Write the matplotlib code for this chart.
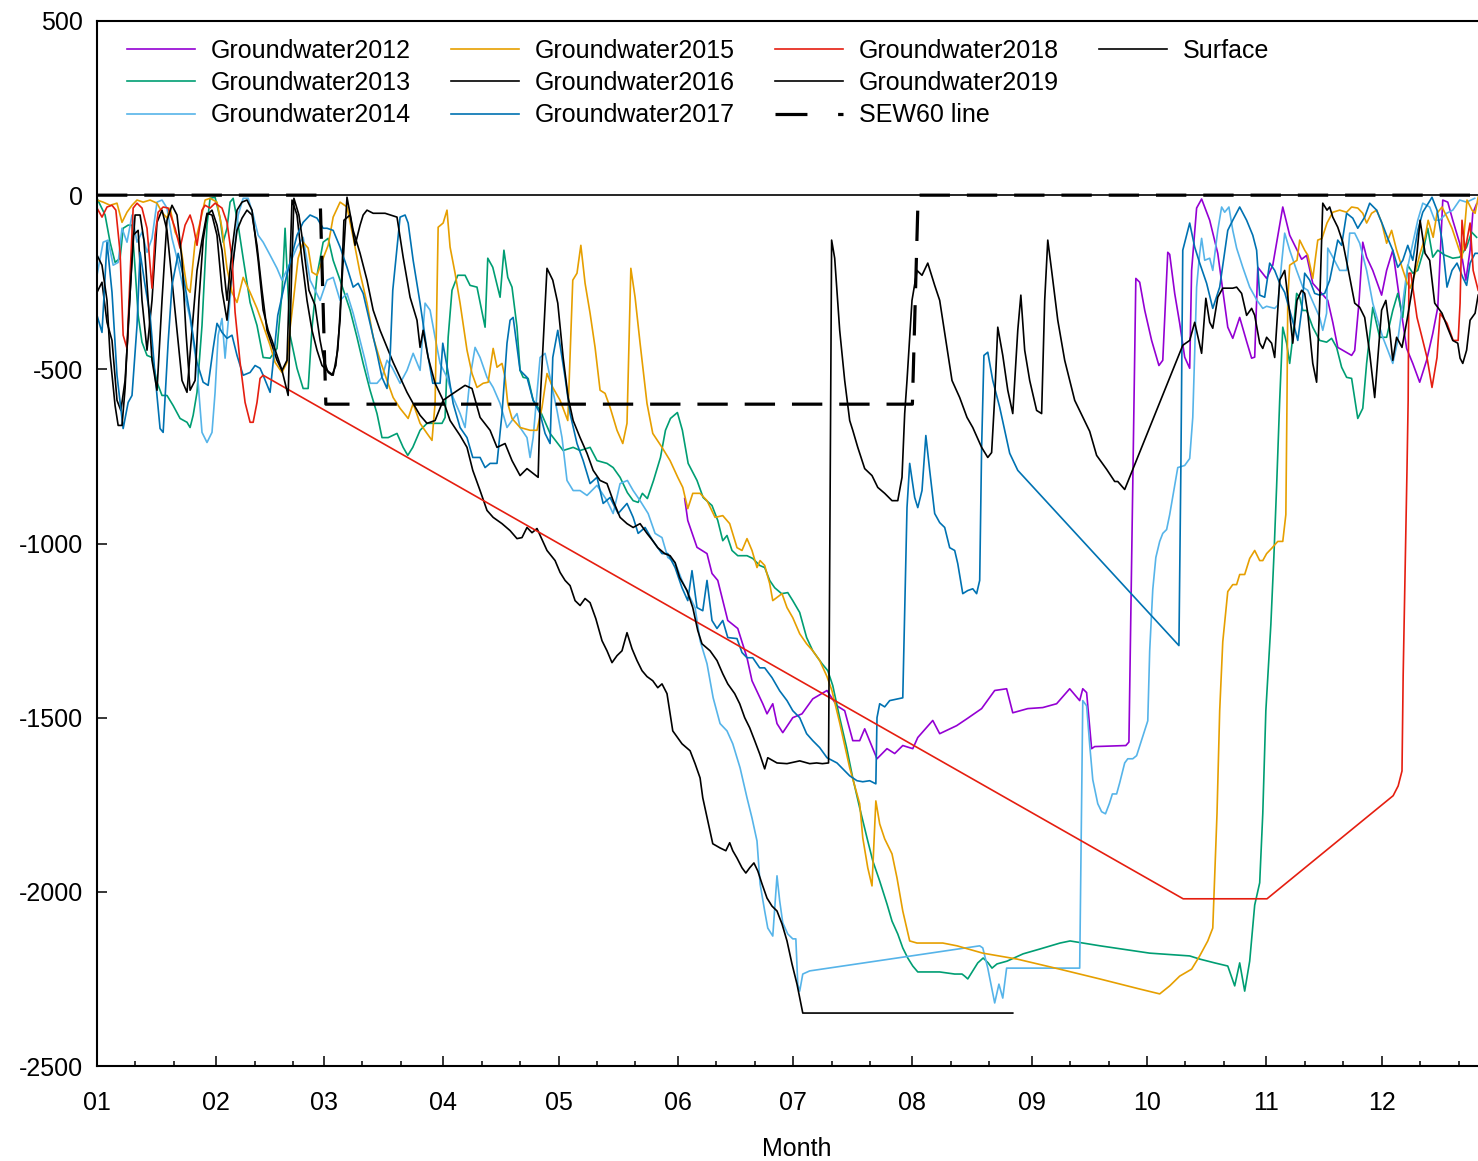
import matplotlib
matplotlib.use("Agg")
import matplotlib.pyplot as plt
from matplotlib.lines import Line2D

plt.rcParams['font.family'] = ['Liberation Sans', 'DejaVu Sans']
plt.rcParams['axes.unicode_minus'] = False

# day of year (0 = 1 Jan), value
gw2012 = [(152.8,-871),(153.6,-934),(156.0,-1011),(158.6,-1029),(159.9,-1086),(161.4,-1106),(164.0,-1221),(166.6,-1244),
          (169.0,-1328),(170.3,-1394),(173.1,-1460),(174.2,-1489),(175.7,-1460),(176.8,-1517),(178.3,-1543),(180.9,-1500),
          (183.3,-1489),(186.1,-1446),(189.8,-1422),(192.4,-1466),(194.4,-1480),(196.5,-1566),(198.3,-1566),(199.6,-1532),
          (202.8,-1618),(205.4,-1589),(207.4,-1603),(209.5,-1580),(212.1,-1589),(213.4,-1557),(217.3,-1508),(219.1,-1546),
          (223.5,-1523),(226.2,-1503),(230.0,-1474),(233.4,-1422),(236.5,-1417),(238.1,-1486),(242.0,-1474),(245.9,-1471),
          (249.5,-1460),(252.9,-1417),(255.5,-1451),(256.3,-1417),(257.3,-1428),(258.6,-1589),(259.4,-1583),(267.5,-1580),
          (268.3,-1570),(270.1,-239),(271.1,-250),(272.4,-330),(274.2,-417),(276.1,-489),(277.1,-474),(278.4,-164),
          (278.9,-170),(280.2,-282),(281.5,-368),(282.8,-465),(284.1,-497),(284.6,-216),(285.9,-37),(287.2,-11),
          (289.3,-72),(291.4,-167),(294.0,-379),(295.3,-411),(297.1,-351),(298.9,-420),(300.2,-468),(301.0,-465),
          (301.8,-207),(304.1,-239),(305.7,-201),(308.3,-34),(310.1,-115),(313.2,-184),(314.5,-173),(316.1,-253),
          (320.0,-302),(321.3,-365),(322.6,-437),(326.2,-460),(327.0,-446),(328.1,-310),(329.1,-135),(330.1,-178),
          (331.7,-216),(334.0,-287),(335.3,-216),(336.9,-158),(338.7,-302),(340.5,-440),(342.1,-483),(343.9,-537),
          (345.7,-474),(347.3,-397),(348.6,-322),(349.9,-14),(351.2,-20),(352.5,-72),(354.3,-138),(355.9,-244),
          (357.0,-158),(357.7,-52),(358.7,-25)]

gw2013 = [(0,-9),(2.1,-57),(3.4,-135),(4.7,-193),(6.0,-181),(6.8,-95),(8.1,-86),(9.1,-86),(9.9,-210),(10.7,-345),
          (11.7,-422),(13.0,-460),(14.3,-466),(15.6,-537),(16.9,-575),(18.2,-575),(19.8,-604),(21.6,-641),(23.4,-652),
          (24.2,-667),(25.0,-632),(26.0,-566),(27.3,-374),(28.6,-86),(29.4,-9),(30.7,-6),(32.0,-66),(32.8,-135),
          (33.8,-95),(34.6,-20),(35.4,-9),(36.7,-86),(38.0,-181),(39.8,-308),(41.6,-374),(43.2,-466),(45.0,-468),
          (46.8,-440),(48.1,-279),(48.9,-95),(50.2,-402),(52.0,-497),(53.6,-555),(54.9,-555),(55.9,-382),(57.2,-230),
          (58.8,-135),(60.1,-124),(61.4,-187),(63.2,-244),(65.8,-330),(67.6,-408),(69.2,-483),(71.0,-560),(72.8,-627),
          (74.1,-696),(75.7,-696),(78.0,-684),(79.6,-724),(80.8,-747),(82.1,-724),(84.0,-675),(85.8,-655),(87.9,-655),
          (89.7,-655),(90.5,-638),(91.3,-408),(92.3,-273),(93.8,-230),(95.7,-230),(97.0,-259),(98.8,-264),(100.9,-379),
          (101.6,-181),(102.9,-207),(104.8,-293),(105.8,-158),(106.8,-236),(107.9,-264),(109.2,-379),(110.0,-503),
          (110.8,-523),(112.1,-526),(113.4,-589),(115.2,-618),(117.8,-684),(121.2,-733),(123.8,-724),(125.6,-733),
          (128.2,-724),(130.0,-762),(132.6,-770),(134.2,-782),(136.0,-810),(137.9,-854),(139.4,-877),(140.7,-882),
          (141.8,-856),(143.1,-871),(144.7,-819),(146.5,-753),(147.8,-675),(149.1,-641),(150.9,-624),(152.2,-675),
          (153.7,-770),(156.0,-819),(157.6,-868),(159.9,-891),(161.4,-934),(162.7,-992),(163.8,-977),(165.1,-1020),
          (166.6,-1035),(169.0,-1035),(170.5,-1043),(172.3,-1063),(173.6,-1069),(174.9,-1106),(176.2,-1127),
          (178.0,-1144),(179.6,-1141),(180.9,-1164),(182.7,-1198),(184.5,-1270),(186.1,-1308),(188.5,-1345),
          (190.0,-1365),(191.3,-1408),(193.1,-1500),(194.9,-1586),(196.5,-1673),(198.3,-1759),(200.2,-1845),
          (201.7,-1911),(203.5,-1969),(205.4,-2035),(206.7,-2084),(208.2,-2121),(209.5,-2161),(210.8,-2190),
          (212.1,-2213),(213.4,-2230),(219.1,-2230),(223.0,-2236),(224.9,-2236),(225.6,-2242),(226.4,-2250),
          (227.7,-2227),(229.0,-2204),(230.4,-2190),(231.7,-2204),(232.7,-2219),(234.0,-2207),(236.6,-2199),
          (240.8,-2178),(245.2,-2164),(250.4,-2147),(253.0,-2141),(260.8,-2155),(273.7,-2176),(284.1,-2184),
          (286.7,-2193),(290.6,-2204),(294.0,-2213),(295.8,-2270),(297.1,-2204),(298.4,-2285),(299.7,-2199),
          (301.0,-2038),(302.3,-1974),(303.1,-1776),(303.9,-1480),(304.7,-1331),(305.2,-1233),(306.0,-1035),
          (306.7,-836),(307.5,-589),(308.3,-379),(309.3,-425),(310.1,-483),(310.9,-408),(311.9,-282),(312.7,-293),
          (313.5,-331),(314.5,-331),(316.1,-379),(317.9,-417),(319.7,-422),(321.0,-411),(322.3,-437),(323.6,-494),
          (324.9,-523),(326.2,-526),(327.8,-641),(329.1,-612),(330.1,-483),(331.7,-322),(333.5,-408),(335.3,-408),
          (336.9,-331),(338.2,-282),(339.5,-351),(340.8,-201),(342.1,-224),(343.4,-216),(344.7,-167),(346.0,-95),
          (347.3,-178),(348.6,-158),(350.4,-172),(352.5,-181),(354.3,-178),(356.1,-149),(357.4,-106),(358.7,-121)]

gw2014 = [(0,-230),(1.6,-135),(2.9,-129),(4.2,-201),(5.5,-193),(6.5,-95),(7.8,-135),(9.1,-57),(10.4,-135),(11.7,-106),
          (13.0,-164),(14.3,-124),(15.6,-20),(16.9,-14),(18.2,-37),(19.5,-124),(20.8,-181),(22.4,-267),(24.2,-354),
          (26.0,-497),(27.3,-681),(28.6,-710),(29.9,-681),(30.7,-566),(31.5,-402),(32.5,-354),(33.3,-468),(34.1,-365),
          (35.4,-193),(36.7,-57),(38.0,-9),(39.3,-9),(40.6,-57),(41.9,-115),(43.2,-135),(45.0,-172),(46.8,-210),
          (48.1,-244),(50.2,-195),(52.0,-149),(53.6,-121),(55.4,-244),(58.0,-302),(59.8,-244),(61.4,-236),(63.2,-302),
          (65.0,-282),(66.6,-339),(68.4,-417),(69.7,-474),(71.0,-540),(72.8,-540),(74.1,-523),(75.4,-474),(76.7,-494),
          (78.8,-540),(80.6,-503),(82.2,-454),(84.0,-503),(85.3,-310),(86.6,-330),(87.9,-408),(89.2,-483),(91.0,-523),
          (92.6,-581),(94.4,-627),(95.7,-667),(97.0,-523),(98.3,-437),(99.6,-466),(101.4,-523),(103.0,-552),
          (104.8,-598),(106.6,-667),(107.9,-647),(109.2,-627),(110.0,-667),(111.8,-696),(112.6,-753),(113.4,-696),
          (115.2,-466),(116.5,-454),(117.8,-523),(119.6,-618),(120.9,-696),(122.2,-819),(123.8,-848),(125.6,-848),
          (127.4,-862),(130.0,-833),(132.6,-877),(134.2,-914),(136.0,-828),(137.9,-819),(139.4,-848),(141.2,-877),
          (143.3,-914),(145.1,-971),(146.9,-983),(148.4,-1040),(150.3,-1055),(152.1,-1106),(153.7,-1144),
          (155.5,-1184),(156.8,-1279),(158.6,-1345),(160.2,-1443),(162.0,-1517),(163.8,-1538),(165.3,-1575),
          (167.2,-1644),(169.0,-1730),(170.3,-1788),(171.6,-1854),(172.4,-1977),(173.6,-2055),(174.4,-2104),
          (175.7,-2127),(176.8,-1954),(177.5,-2026),(178.3,-2089),(179.6,-2121),(180.9,-2135),(181.7,-2135),
          (182.2,-2265),(182.7,-2285),(183.5,-2236),(185.3,-2227),(229.5,-2155),(230.3,-2161),(231.6,-2219),
          (233.4,-2319),(234.5,-2265),(235.5,-2305),(236.5,-2219),(255.5,-2219),(256.3,-1451),(257.3,-1466),
          (258.1,-1578),(258.9,-1678),(260.2,-1747),(261.2,-1770),(262.2,-1776),(263.2,-1747),(264.0,-1719),
          (265.1,-1719),(265.9,-1687),(267.2,-1630),(268.0,-1618),(269.3,-1618),(270.3,-1609),(273.2,-1509),
          (273.7,-1308),(274.5,-1132),(275.3,-1040),(276.3,-994),(277.1,-971),(278.1,-960),(278.9,-917),(279.7,-865),
          (281.0,-782),(282.8,-776),(284.1,-756),(284.9,-638),(285.9,-264),(286.7,-167),(287.2,-124),(288.0,-187),
          (289.3,-181),(290.1,-216),(291.4,-101),(292.4,-34),(293.2,-49),(294.3,-34),(295.3,-101),(296.3,-152),
          (297.9,-207),(299.7,-264),(301.6,-302),(303.1,-325),(304.1,-319),(306.2,-325),(307.0,-316),(308.0,-195),
          (308.8,-109),(310.1,-158),(311.9,-216),(313.5,-264),(314.8,-273),(317.9,-351),(318.7,-388),(319.7,-339),
          (320.0,-152),(321.3,-178),(323.1,-216),(324.9,-216),(325.7,-109),(327.0,-109),(328.3,-138),(330.1,-216),
          (331.7,-310),(333.5,-379),(334.3,-408),(335.6,-445),(336.9,-483),(338.2,-417),(339.5,-310),(340.6,-216),
          (342.1,-138),(343.4,-72),(344.7,-23),(346.5,-34),(347.8,-72),(349.1,-72),(350.9,-52),(352.5,-43),
          (354.3,-14),(356.1,-20),(358.2,-9)]

gw2015 = [(0,-14),(1.6,-20),(3.4,-29),(5.2,-23),(6.5,-78),(7.8,-49),(9.1,-29),(10.4,-14),(12.0,-20),(13.8,-14),
          (15.6,-23),(16.9,-49),(18.2,-66),(19.0,-37),(20.3,-106),(21.6,-135),(23.4,-267),(24.2,-279),(25.5,-135),
          (26.8,-78),(28.1,-14),(29.4,-9),(31.2,-20),(32.5,-95),(33.8,-210),(35.1,-279),(36.4,-308),(38.0,-236),
          (39.8,-279),(41.6,-325),(43.2,-374),(45.0,-431),(46.3,-480),(48.1,-509),(49.4,-480),(50.2,-382),(51.0,-308),
          (52.3,-181),(53.6,-135),(54.9,-152),(55.9,-221),(57.2,-230),(58.8,-181),(60.1,-144),(61.4,-63),(63.2,-20),
          (65.0,-34),(66.6,-121),(68.4,-224),(70.2,-310),(71.8,-408),(73.6,-474),(75.4,-532),(77.0,-581),(78.8,-612),
          (80.9,-641),(82.2,-598),(84.0,-655),(85.8,-684),(87.1,-704),(87.9,-598),(88.7,-92),(90.0,-80),(91.0,-43),
          (91.8,-149),(93.1,-224),(94.4,-310),(96.2,-445),(97.5,-512),(98.8,-552),(100.4,-540),(101.7,-537),
          (103.0,-440),(104.0,-494),(105.3,-483),(106.1,-523),(106.8,-598),(107.9,-641),(110.0,-667),(112.6,-675),
          (114.4,-675),(115.7,-609),(117.0,-512),(118.5,-552),(120.4,-589),(122.4,-647),(123.7,-244),(124.8,-224),
          (125.8,-144),(126.9,-253),(128.2,-339),(129.5,-437),(130.8,-560),(132.1,-569),(133.4,-609),(135.2,-675),
          (136.7,-713),(137.8,-655),(138.8,-210),(139.9,-293),(141.2,-425),(143.0,-598),(144.5,-684),(146.9,-724),
          (149.0,-762),(151.0,-810),(152.3,-839),(153.6,-900),(154.9,-856),(156.8,-856),(158.6,-877),(160.7,-925),
          (162.7,-920),(164.5,-943),(166.4,-1012),(167.7,-1020),(169.0,-986),(170.3,-1020),(171.6,-1069),
          (172.4,-1049),(173.6,-1063),(174.9,-1115),(175.7,-1164),(178.1,-1144),(179.4,-1184),(180.9,-1213),
          (182.7,-1259),(184.5,-1288),(186.1,-1308),(187.9,-1336),(189.8,-1382),(191.1,-1423),(193.1,-1515),
          (195.7,-1644),(198.3,-1747),(199.1,-1845),(200.4,-1931),(201.5,-1983),(202.5,-1739),(203.5,-1805),
          (204.8,-1848),(206.7,-1891),(208.0,-1960),(209.5,-2055),(211.3,-2141),(213.2,-2147),(219.9,-2147),
          (223.6,-2155),(230.3,-2176),(239.2,-2193),(250.3,-2222),(260.7,-2250),(271.1,-2279),(276.3,-2293),
          (278.9,-2270),(281.5,-2242),(284.6,-2222),(286.7,-2184),(288.8,-2141),(290.1,-2104),(291.2,-1776),
          (291.9,-1480),(292.7,-1282),(294.0,-1138),(295.3,-1118),(296.3,-1118),(297.1,-1089),(298.4,-1089),
          (299.7,-1043),(301.0,-1020),(302.3,-1049),(303.1,-1049),(304.1,-1029),(305.4,-1014),(307.0,-994),
          (308.3,-994),(309.1,-917),(309.4,-589),(309.6,-302),(310.1,-201),(310.9,-195),(312.0,-187),(312.7,-129),
          (314.0,-158),(314.8,-172),(316.1,-239),(317.4,-129),(318.5,-124),(319.8,-80),(321.3,-49),(323.1,-43),
          (324.9,-49),(326.2,-34),(327.8,-37),(329.1,-52),(330.1,-80),(331.4,-52),(332.7,-43),(334.0,-78),
          (335.3,-138),(336.6,-101),(337.9,-158),(339.3,-207),(340.6,-250),(341.4,-267),(342.7,-224),(344.0,-167),
          (345.3,-121),(346.1,-72),(347.4,-121),(348.4,-52),(349.7,-34),(351.0,-63),(352.3,-95),(353.6,-138),
          (354.9,-181),(356.2,-14),(357.5,-43),(358.3,-52),(359.1,-6)]

gw2016 = [(0,-279),(1.3,-250),(2.6,-365),(3.9,-417),(5.2,-589),(6.2,-618),(7.3,-532),(8.1,-388),(9.4,-115),
          (10.7,-101),(11.7,-302),(13.0,-445),(14.3,-302),(15.6,-78),(16.9,-43),(18.2,-101),(19.5,-244),(20.8,-388),
          (22.1,-532),(23.4,-566),(24.7,-388),(26.0,-216),(27.3,-129),(28.6,-52),(29.9,-57),(31.2,-115),(32.5,-273),
          (33.8,-359),(35.1,-216),(36.4,-101),(37.7,-66),(39.0,-43),(40.3,-57),(41.6,-144),(42.9,-273),(44.2,-388),
          (45.5,-431),(46.8,-474),(48.1,-503),(49.4,-474),(50.7,-14),(52.0,-57),(53.3,-187),(54.6,-302),(55.9,-388),
          (57.2,-445),(58.5,-489),(59.8,-503),(61.4,-517),(62.6,-445),(63.7,-244),(65.0,-6),(66.6,-101),(68.4,-167),
          (70.2,-244),(71.8,-330),(73.6,-388),(75.4,-437),(77.0,-480),(78.8,-523),(80.6,-566),(82.2,-598),(84.0,-632),
          (85.8,-655),(87.9,-647),(90.0,-589),(91.8,-647),(94.4,-690),(96.2,-724),(97.7,-790),(99.6,-848),
          (101.4,-905),(103.0,-925),(105.3,-943),(107.4,-963),(109.2,-986),(110.5,-983),(111.8,-954),(113.1,-969),
          (114.4,-957),(117.0,-1020),(119.1,-1049),(120.4,-1083),(121.7,-1106),(123.0,-1121),(124.3,-1164),
          (125.6,-1178),(126.9,-1158),(128.2,-1170),(129.7,-1216),(131.3,-1279),(132.6,-1308),(133.9,-1342),
          (135.2,-1322),(136.5,-1308),(137.8,-1256),(139.1,-1302),(140.4,-1336),(141.7,-1365),(143.0,-1382),
          (144.5,-1394),(145.8,-1414),(146.9,-1403),(148.2,-1431),(149.7,-1538),(152.1,-1575),(154.2,-1595),
          (155.5,-1632),(156.8,-1673),(157.5,-1730),(158.8,-1796),(160.1,-1862),(162.0,-1874),(163.5,-1882),
          (164.5,-1859),(165.3,-1882),(166.4,-1903),(167.7,-1931),(168.7,-1946),(169.7,-1931),(170.8,-1917),
          (171.8,-1940),(172.9,-1977),(174.2,-2018),(175.5,-2041),(176.8,-2055),(178.1,-2092),(179.4,-2141),
          (180.7,-2207),(182.0,-2265),(183.5,-2348),(186.1,-2348),(238.1,-2348)]

gw2017 = [(0,-345),(1.3,-394),(2.6,-135),(3.9,-279),(5.2,-517),(6.8,-670),(8.1,-595),(9.1,-575),(10.4,-374),
          (11.2,-164),(12.5,-259),(13.8,-345),(15.1,-517),(16.4,-670),(17.2,-681),(18.5,-422),(19.5,-259),(21.1,-167),
          (22.4,-230),(24.2,-345),(26.0,-480),(27.6,-537),(28.9,-546),(30.2,-440),(31.2,-368),(32.5,-394),(33.8,-411),
          (35.1,-402),(36.4,-460),(38.0,-517),(39.8,-509),(41.1,-489),(42.4,-497),(43.2,-517),(45.0,-566),(45.8,-480),
          (47.0,-345),(48.9,-250),(50.2,-193),(52.0,-115),(53.6,-78),(55.4,-57),(57.2,-66),(58.8,-95),(59.8,-95),
          (61.4,-101),(63.2,-149),(65.0,-207),(66.6,-264),(67.9,-253),(69.2,-282),(71.0,-368),(72.8,-454),(74.1,-523),
          (75.4,-555),(76.2,-466),(76.9,-273),(78.8,-63),(80.1,-57),(80.9,-80),(82.2,-187),(84.0,-310),(85.8,-445),
          (87.3,-540),(89.2,-540),(89.9,-425),(91.2,-503),(92.6,-598),(94.4,-667),(96.2,-696),(97.7,-753),(99.6,-753),
          (100.9,-782),(102.2,-770),(104.0,-770),(105.3,-627),(106.6,-425),(107.4,-359),(108.2,-351),(110.0,-503),
          (111.8,-523),(113.4,-589),(115.2,-627),(116.5,-684),(117.8,-713),(118.5,-466),(119.8,-388),(121.7,-523),
          (123.0,-627),(124.8,-713),(126.4,-762),(128.2,-828),(130.0,-810),(131.6,-885),(133.4,-868),(135.5,-914),
          (137.8,-885),(139.4,-925),(140.7,-971),(142.5,-954),(144.5,-992),(146.9,-1029),(148.4,-1029),(150.3,-1069),
          (152.1,-1127),(153.6,-1164),(154.7,-1078),(156.0,-1184),(157.5,-1193),(158.6,-1106),(159.9,-1221),
          (161.2,-1244),(162.7,-1221),(164.0,-1270),(166.4,-1273),(167.7,-1313),(169.0,-1328),(170.5,-1328),
          (172.3,-1357),(173.6,-1357),(175.5,-1385),(177.5,-1423),(179.4,-1451),(180.9,-1480),(182.7,-1500),
          (184.5,-1546),(186.1,-1566),(187.9,-1586),(189.8,-1615),(192.4,-1630),(193.9,-1647),(195.7,-1667),
          (197.6,-1681),(199.1,-1684),(200.9,-1681),(202.5,-1690),(202.8,-1500),(203.5,-1460),(204.8,-1469),
          (206.1,-1451),(209.5,-1443),(210.6,-897),(211.3,-770),(212.6,-868),(213.4,-897),(214.5,-848),(215.5,-690),
          (216.5,-790),(217.8,-914),(219.1,-940),(220.4,-954),(221.7,-1012),(223.0,-1020),(223.8,-1058),
          (225.1,-1144),(226.4,-1135),(227.7,-1130),(228.7,-1144),(229.5,-1106),(230.0,-724),(230.6,-460),
          (231.6,-451),(232.9,-532),(234.7,-609),(237.3,-741),(239.4,-790),(281.3,-1293),(281.8,-790),(282.3,-158),
          (284.1,-80),(285.4,-149),(286.7,-195),(288.5,-253),(290.1,-325),(291.9,-264),(294.0,-101),(295.3,-72),
          (297.1,-34),(298.9,-72),(300.5,-115),(301.5,-158),(302.3,-287),(303.6,-293),(304.9,-195),(306.2,-216),
          (307.5,-253),(308.8,-279),(310.1,-331),(311.4,-382),(312.2,-417),(313.2,-331),(314.0,-224),(315.3,-244),
          (316.6,-282),(317.9,-287),(319.2,-282),(320.5,-244),(321.3,-201),(322.6,-129),(323.6,-144),(324.9,-52),
          (326.5,-66),(327.8,-95),(329.6,-63),(330.9,-23),(332.7,-43),(334.3,-86),(335.6,-124),(336.9,-158),
          (338.2,-207),(339.5,-187),(340.8,-144),(342.1,-187),(343.4,-101),(344.7,-49),(347.1,-6),(348.4,-43),
          (349.7,-129),(351.0,-264),(352.3,-216),(353.6,-195),(355.1,-236),(356.1,-259),(357.0,-195),(358.3,-167),
          (359.1,-167)]

gw2018 = [(0,-37),(1.3,-63),(2.6,-34),(3.9,-29),(4.9,-43),(6.0,-164),(6.8,-402),(7.8,-440),(8.6,-230),(9.4,-37),
          (10.4,-23),(11.7,-37),(13.0,-95),(14.3,-267),(15.1,-115),(15.9,-49),(17.2,-34),(18.5,-37),(20.3,-95),
          (21.6,-152),(22.9,-86),(24.2,-57),(25.0,-86),(26.0,-144),(27.3,-43),(28.1,-29),(29.4,-37),(30.7,-23),
          (32.5,-37),(33.8,-78),(35.1,-181),(35.9,-336),(37.2,-480),(38.5,-595),(39.8,-652),(40.6,-652),(41.6,-595),
          (42.4,-526),(43.2,-517),(282.4,-2020),(304.2,-2020),(337.0,-1724),(338.3,-1696),(339.3,-1653),
          (339.6,-1380),(340.1,-1083),(340.6,-787),(340.9,-589),(341.1,-224),(341.6,-224),(343.2,-351),(344.5,-408),
          (345.8,-466),(347.1,-552),(348.4,-466),(349.2,-339),(351.0,-368),(352.6,-417),(353.9,-417),(354.4,-310),
          (354.9,-72),(355.7,-158),(357.0,-80),(357.8,-216),(359.1,-273)]

gw2019 = [(0,-172),(1.3,-201),(2.6,-302),(3.4,-460),(4.7,-604),(5.5,-661),(6.5,-661),(7.3,-555),(8.1,-374),
          (9.1,-187),(9.9,-57),(11.2,-57),(12.2,-129),(13.3,-302),(14.3,-474),(15.6,-560),(16.9,-302),(18.2,-72),
          (19.5,-29),(20.8,-57),(22.1,-187),(23.1,-388),(24.2,-560),(25.5,-532),(26.5,-302),(27.6,-129),(28.6,-57),
          (29.9,-43),(31.2,-86),(32.5,-158),(33.8,-302),(35.1,-158),(36.4,-43),(37.7,-20),(39.0,-14),(40.3,-43),
          (41.9,-187),(43.2,-330),(44.5,-388),(45.5,-417),(46.8,-460),(48.1,-503),(49.7,-575),(50.7,-187),(51.2,-9),
          (52.5,-57),(53.8,-158),(55.1,-273),(56.7,-316),(58.0,-417),(59.0,-474),(60.1,-509),(61.1,-517),(62.1,-489),
          (63.2,-359),(64.2,-72),(65.8,-57),(67.1,-144),(68.4,-86),(69.2,-57),(70.2,-43),(71.8,-52),(74.9,-52),
          (78.0,-63),(79.6,-178),(81.4,-293),(83.2,-359),(84.0,-437),(84.8,-388),(86.1,-466),(87.9,-540),(90.0,-589),
          (91.8,-575),(93.8,-560),(95.7,-546),(97.5,-555),(99.6,-638),(102.2,-675),(104.0,-724),(106.1,-713),
          (107.9,-762),(110.0,-805),(111.8,-785),(113.4,-799),(114.7,-810),(115.2,-598),(117.0,-210),(118.5,-244),
          (119.8,-310),(121.2,-466),(122.5,-581),(123.8,-647),(125.6,-696),(127.4,-741),(129.0,-790),(130.8,-819),
          (132.6,-828),(134.2,-877),(136.0,-925),(137.8,-943),(139.4,-954),(141.2,-943),(143.0,-971),(144.5,-992),
          (145.8,-1012),(147.6,-1029),(149.0,-1035),(150.3,-1055),(151.5,-1098),(153.4,-1135),(154.9,-1184),
          (156.2,-1250),(157.3,-1288),(159.4,-1308),(161.2,-1336),(162.7,-1374),(164.0,-1403),(165.8,-1431),
          (167.1,-1460),(168.4,-1500),(169.7,-1529),(171.0,-1566),(172.3,-1604),(173.6,-1647),(174.4,-1615),
          (176.8,-1630),(179.4,-1632),(182.7,-1624),(185.3,-1632),(187.1,-1630),(188.6,-1632),(190.2,-1630),
          (191.0,-129),(191.8,-181),(193.1,-388),(194.4,-532),(195.7,-647),(196.5,-675),(197.8,-724),(199.6,-785),
          (201.5,-805),(203.0,-839),(204.8,-856),(206.7,-877),(208.2,-877),(209.3,-810),(210.0,-627),(210.6,-532),
          (211.9,-302),(213.2,-216),(214.5,-230),(216.0,-195),(217.8,-259),(219.1,-302),(220.7,-417),(222.3,-532),
          (224.3,-581),(226.2,-638),(227.7,-667),(230.0,-724),(231.6,-753),(232.6,-739),(233.4,-581),(234.2,-379),
          (235.5,-460),(236.8,-560),(238.1,-627),(239.4,-388),(240.2,-287),(241.2,-445),(242.5,-532),(244.3,-618),
          (245.6,-627),(246.4,-302),(247.2,-129),(248.2,-216),(249.8,-359),(251.6,-474),(254.2,-589),(258.1,-678),
          (259.9,-747),(262.5,-787),(264.6,-822),(265.4,-822),(267.2,-845),(282.3,-431),(284.1,-417),(285.4,-365),
          (287.2,-454),(288.3,-296),(289.3,-365),(290.1,-382),(291.4,-293),(292.7,-267),(295.3,-267),(296.3,-264),
          (297.6,-282),(298.9,-345),(300.2,-325),(301.0,-345),(302.3,-425),(303.1,-440),(304.1,-408),(305.4,-425),
          (306.2,-466),(307.5,-244),(308.8,-216),(310.1,-339),(310.9,-425),(312.0,-302),(313.2,-273),(314.0,-282),
          (314.8,-339),(316.1,-483),(317.1,-537),(317.9,-310),(318.7,-23),(319.8,-43),(320.5,-34),(321.3,-63),
          (322.6,-92),(323.9,-135),(325.2,-207),(327.0,-310),(328.3,-322),(329.6,-351),(330.9,-454),(332.2,-581),
          (334.0,-330),(335.1,-302),(336.1,-388),(336.9,-474),(337.9,-408),(339.3,-437),(340.6,-359),(341.9,-273),
          (343.2,-167),(344.0,-72),(345.3,-167),(346.5,-187),(347.8,-310),(349.7,-339),(351.2,-382),(352.5,-417),
          (353.8,-425),(354.4,-468),(355.1,-483),(356.1,-445),(357.0,-359),(358.3,-339),(359.1,-287)]

sew60_day = [0, 58, 59.5, 212, 213.5, 364]
sew60_val = [0, 0, -600, -600, 0, 0]
surface_day = [0, 364]
surface_val = [0, 0]

series = [("Groundwater2012", gw2012, "#9400D3"),
          ("Groundwater2013", gw2013, "#009E73"),
          ("Groundwater2014", gw2014, "#56B4E9"),
          ("Groundwater2015", gw2015, "#E69F00"),
          ("Groundwater2016", gw2016, "black"),
          ("Groundwater2017", gw2017, "#0072B2"),
          ("Groundwater2018", gw2018, "#E51E10"),
          ("Groundwater2019", gw2019, "black")]

month_starts = [0, 31, 59, 90, 120, 151, 181, 212, 243, 273, 304, 334]
month_labels = ["01", "02", "03", "04", "05", "06", "07", "08", "09", "10", "11", "12"]

fig = plt.figure(figsize=(14.78, 11.61), dpi=100)
# the plot area runs on past the right edge of the picture (to 31 Dec)
ax = fig.add_axes([97/1478, 1 - 1066/1161, (1497 - 97)/1478, (1066 - 21)/1161])

handles = []
for name, pts, col in series:
    d = [p[0] for p in pts]
    v = [p[1] for p in pts]
    ln, = ax.plot(d, v, color=col, lw=1.2, label=name)
    handles.append(ln)

ax.plot(sew60_day, sew60_val, color="black", lw=2.3, dashes=(9.5, 5.3))
surf, = ax.plot(surface_day, surface_val, color="black", lw=1.2, label="Surface")

# legend key for the SEW60 line: long dash, wide gap, short stub
sew_key = Line2D([], [], color="black", lw=2.3, dashes=(10, 9.6), label="SEW60 line")
handles += [sew_key, surf]

blank = Line2D([], [], linestyle="none")
handles += [blank, blank]
labels = [h.get_label() for h in handles[:10]] + ["", ""]

ax.legend(handles, labels, ncol=4, loc="upper left", bbox_to_anchor=(0.0214, 0.983),
          frameon=False, fontsize=18, handlelength=2.72, handletextpad=0.64,
          columnspacing=1.6, labelspacing=0.33, borderpad=0, borderaxespad=0)

ax.set_xlim(0, 364)
ax.set_ylim(-2500, 500)
ax.set_yticks([-2500, -2000, -1500, -1000, -500, 0, 500])
ax.set_xticks(month_starts)
ax.set_xticklabels(month_labels)
ax.set_xticks([m + k for m in month_starts for k in (10, 20)], minor=True)

ax.tick_params(axis="both", which="major", direction="in", length=7, width=1.1, labelsize=18)
ax.tick_params(axis="x", which="major", pad=18)
ax.tick_params(axis="y", which="major", pad=10)
ax.tick_params(axis="x", which="minor", direction="in", length=3.5, width=1.1)
ax.spines["right"].set_visible(False)
for s in ("left", "bottom", "top"):
    ax.spines[s].set_linewidth(1.5)

ax.set_xlabel("Month", fontsize=18, labelpad=16)

fig.savefig("out.png", dpi=100)
